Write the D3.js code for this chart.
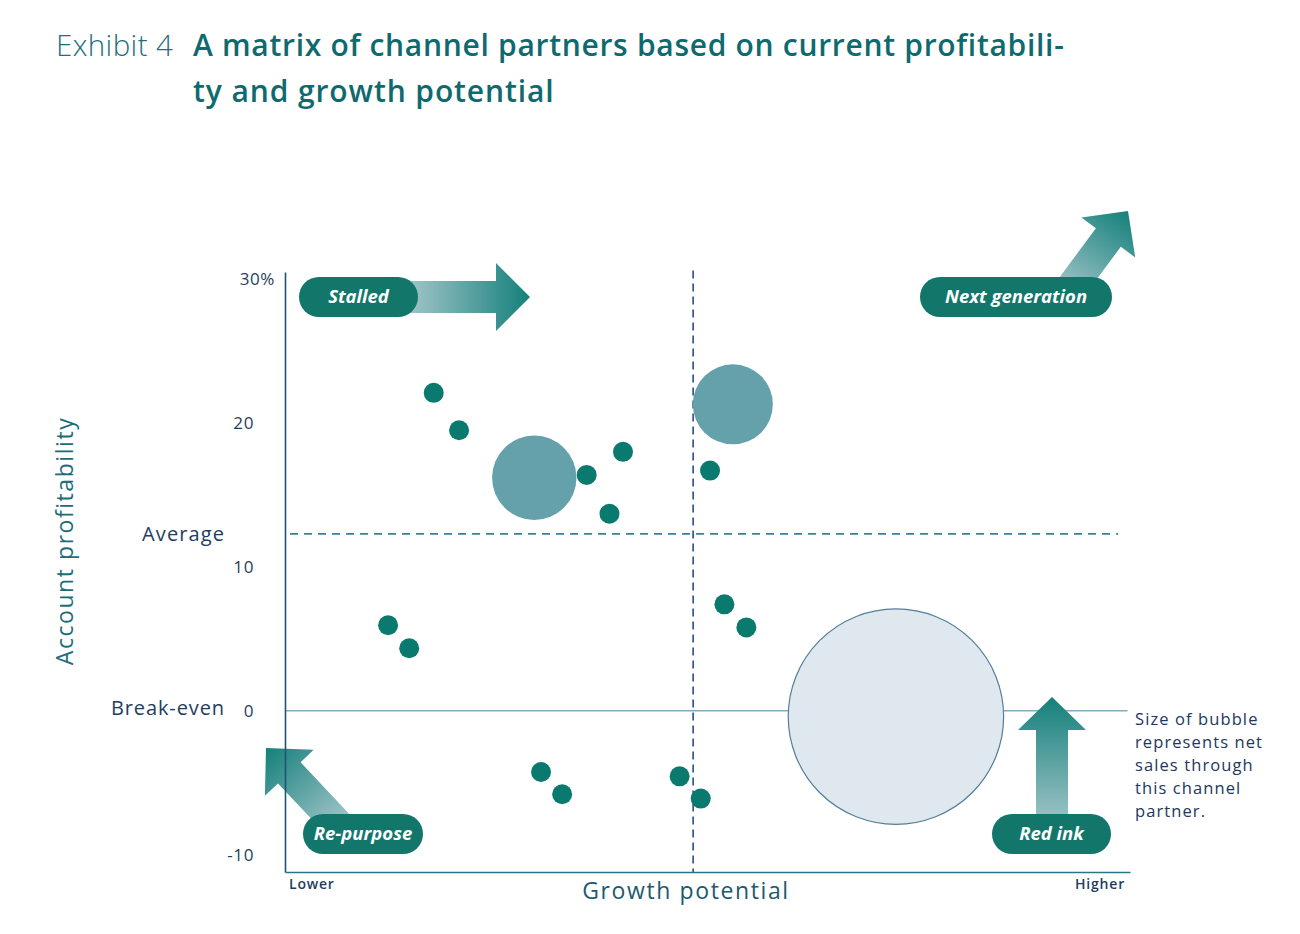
<!DOCTYPE html>
<html>
<head>
<meta charset="utf-8">
<script src="https://cdn.jsdelivr.net/npm/d3@7"></script>
<style>
  html, body { margin: 0; padding: 0; background: #ffffff; }
  svg { display: block; font-family: "Open Sans", "Noto Sans", sans-serif; }
</style>
</head>
<body>
<svg id="chart" width="1300" height="934"></svg>
<script>
// ---------- data ----------
const partners = ["P1","P2","P3","P4","P5","P6","P7","P8","P9","P10","P11","P12","P13","P14","P15","P16","P17"];
const growth = [17.6, 20.6, 29.5, 35.7, 40.0, 38.4, 50.3, 53.0, 12.2, 14.7, 52.0, 54.6, 72.3, 30.3, 32.8, 46.7, 49.2];
const profitability = [22.1, 19.5, 16.2, 16.4, 18.0, 13.7, 16.7, 21.3, 5.95, 4.35, 7.4, 5.8, -0.4, -4.25, -5.8, -4.55, -6.1];
const netSales = [1, 1, 17.8, 1, 1, 1, 1, 16, 1, 1, 1, 1, 116, 1, 1, 1, 1];
const yTickValues = [-10, 0, 10, 20, 30];
const yTickLabels = ["-10", "0", "10", "20", "30%"];
const averageProfit = 12.3;
const breakEven = 0;
const growthDivider = 48.3;
const quadrantLabels = ["Stalled", "Next generation", "Re-purpose", "Red ink"];
const noteLines = ["Size of bubble", "represents net", "sales through", "this channel", "partner."];

// ---------- setup ----------
const svg = d3.select("#chart");
const x = d3.scaleLinear().domain([0, 100]).range([285, 1130]);
const y = d3.scaleLinear().domain([-11.2, 30.5]).range([872, 272]);
const r = d3.scaleSqrt().domain([0, 1]).range([0, 10]);

const navy = "#1f3d5e";
const teal = "#12766a";

// ---------- title ----------
svg.append("text").attr("x", 56).attr("y", 56)
  .attr("font-size", 29.5).attr("font-weight", 300).attr("fill", "#1f6f7d")
  .attr("letter-spacing", 0.4)
  .text("Exhibit 4");
svg.append("text").attr("x", 193).attr("y", 56)
  .attr("font-size", 30).attr("font-weight", 600).attr("fill", "#0f6a70")
  .attr("letter-spacing", 0.7)
  .text("A matrix of channel partners based on current profitabili-");
svg.append("text").attr("x", 193).attr("y", 102)
  .attr("font-size", 30).attr("font-weight", 600).attr("fill", "#0f6a70")
  .attr("letter-spacing", 0.9)
  .text("ty and growth potential");

// ---------- reference lines ----------
svg.append("line")
  .attr("x1", x(0)).attr("x2", x(99.7))
  .attr("y1", y(breakEven)).attr("y2", y(breakEven))
  .attr("stroke", "#86a9bd").attr("stroke-width", 1.5);
svg.append("line")
  .attr("x1", x(0.6)).attr("x2", x(98.6))
  .attr("y1", y(averageProfit)).attr("y2", y(averageProfit))
  .attr("stroke", "#3f7d98").attr("stroke-width", 1.6)
  .attr("stroke-dasharray", "8,6");
svg.append("line")
  .attr("x1", x(growthDivider)).attr("x2", x(growthDivider))
  .attr("y1", y(30.6)).attr("y2", y(-11.2))
  .attr("stroke", "#2c4d88").attr("stroke-width", 1.6)
  .attr("stroke-dasharray", "8,5");

// ---------- bubbles ----------
const pts = partners.map((p, i) => ({ name: p, g: growth[i], p: profitability[i], s: netSales[i] }));
svg.append("g").selectAll("circle").data(pts).join("circle")
  .attr("cx", d => x(d.g))
  .attr("cy", d => y(d.p))
  .attr("r", d => r(d.s))
  .attr("fill", d => d.s > 50 ? "#dfe8ef" : d.s > 5 ? "#65a1aa" : "#0b7a6e")
  .attr("stroke", d => d.s > 50 ? "#537f95" : "none")
  .attr("stroke-width", 1.2);

// ---------- arrows ----------
const defs = svg.append("defs");
function arrow(id, s, t, sw, hw, hl) {
  const dx = t[0] - s[0], dy = t[1] - s[1];
  const L = Math.hypot(dx, dy);
  const u = [dx / L, dy / L], n = [-u[1], u[0]];
  const b = [t[0] - u[0] * hl, t[1] - u[1] * hl];
  const P = (p, k) => [p[0] + n[0] * k, p[1] + n[1] * k];
  const poly = [P(s, sw / 2), P(b, sw / 2), P(b, hw / 2), t, P(b, -hw / 2), P(b, -sw / 2), P(s, -sw / 2)];
  const g = defs.append("linearGradient").attr("id", id)
    .attr("gradientUnits", "userSpaceOnUse")
    .attr("x1", s[0]).attr("y1", s[1]).attr("x2", t[0]).attr("y2", t[1]);
  g.append("stop").attr("offset", 0).attr("stop-color", "#a6cacb");
  g.append("stop").attr("offset", 0.25).attr("stop-color", "#86b7ba");
  g.append("stop").attr("offset", 1).attr("stop-color", "#14807a");
  svg.append("path").attr("d", d3.line()(poly) + "Z").attr("fill", `url(#${id})`);
}
arrow("gStalled", [400, 297], [530, 297], 32, 68, 34);
arrow("gNext", [1062, 300], [1128, 211], 31, 67, 33);
arrow("gRepurpose", [345, 832], [266, 748], 31, 67, 34);
arrow("gRed", [1052, 834], [1052, 697], 32, 68, 33);

// ---------- pills ----------
const pills = [
  { x0: 299, x1: 418, yc: 297 },
  { x0: 920, x1: 1112, yc: 297 },
  { x0: 303, x1: 423, yc: 834 },
  { x0: 992, x1: 1111, yc: 834 }
];
quadrantLabels.forEach((lab, i) => {
  const p = pills[i];
  svg.append("rect").attr("x", p.x0).attr("y", p.yc - 20)
    .attr("width", p.x1 - p.x0).attr("height", 40).attr("rx", 20)
    .attr("fill", teal);
  svg.append("text").attr("x", (p.x0 + p.x1) / 2).attr("y", p.yc + 6)
    .attr("text-anchor", "middle").attr("font-size", 18.5).attr("font-weight", 700)
    .attr("font-style", "italic").attr("fill", "#ffffff").attr("letter-spacing", 0)
    .text(lab);
});

// ---------- axes ----------
const yAxis = svg.append("g").attr("transform", `translate(${x(0)},0)`)
  .call(d3.axisLeft(y).tickValues(yTickValues).tickSize(0).tickPadding(31)
    .tickFormat((d, i) => yTickLabels[i]));
yAxis.select(".domain").attr("stroke", "#1f5570").attr("stroke-width", 1.6);
yAxis.selectAll("text").attr("font-size", 17).attr("fill", navy)
  .attr("font-family", "'Open Sans', sans-serif").attr("letter-spacing", 0.6)
  .attr("dx", (d, i) => yTickLabels[i].includes("%") ? 21 : 0);

const xAxis = svg.append("g").attr("transform", `translate(0,${y(-11.2)})`)
  .call(d3.axisBottom(x).tickValues([]).tickSizeOuter(0));
xAxis.select(".domain").attr("stroke", "#2a7588").attr("stroke-width", 1.6);

// ---------- axis labels ----------
svg.append("text").attr("transform", "translate(73,541) rotate(-90)")
  .attr("text-anchor", "middle").attr("font-size", 23).attr("fill", "#1e6c7a")
  .attr("letter-spacing", 1.55)
  .text("Account profitability");
svg.append("text").attr("x", 686).attr("y", 899)
  .attr("text-anchor", "middle").attr("font-size", 23).attr("fill", "#1d5a6e")
  .attr("letter-spacing", 1.6)
  .text("Growth potential");
svg.append("text").attr("x", 289).attr("y", 889)
  .attr("font-size", 14).attr("font-weight", 600).attr("fill", navy)
  .attr("letter-spacing", 0.8).text("Lower");
svg.append("text").attr("x", 1125).attr("y", 889).attr("text-anchor", "end")
  .attr("font-size", 14).attr("font-weight", 600).attr("fill", navy)
  .attr("letter-spacing", 0.8).text("Higher");

svg.append("text").attr("x", 225).attr("y", y(averageProfit) + 7)
  .attr("text-anchor", "end").attr("font-size", 20).attr("fill", navy)
  .attr("letter-spacing", 1.1).text("Average");
svg.append("text").attr("x", 225).attr("y", y(breakEven) + 4)
  .attr("text-anchor", "end").attr("font-size", 20).attr("fill", navy)
  .attr("letter-spacing", 0.9).text("Break-even");

// ---------- note ----------
svg.append("g").selectAll("text").data(noteLines).join("text")
  .attr("x", 1135).attr("y", (d, i) => 725 + i * 23)
  .attr("font-size", 16.5).attr("fill", "#22375e").attr("letter-spacing", 1.1)
  .text(d => d);
</script>
</body>
</html>
